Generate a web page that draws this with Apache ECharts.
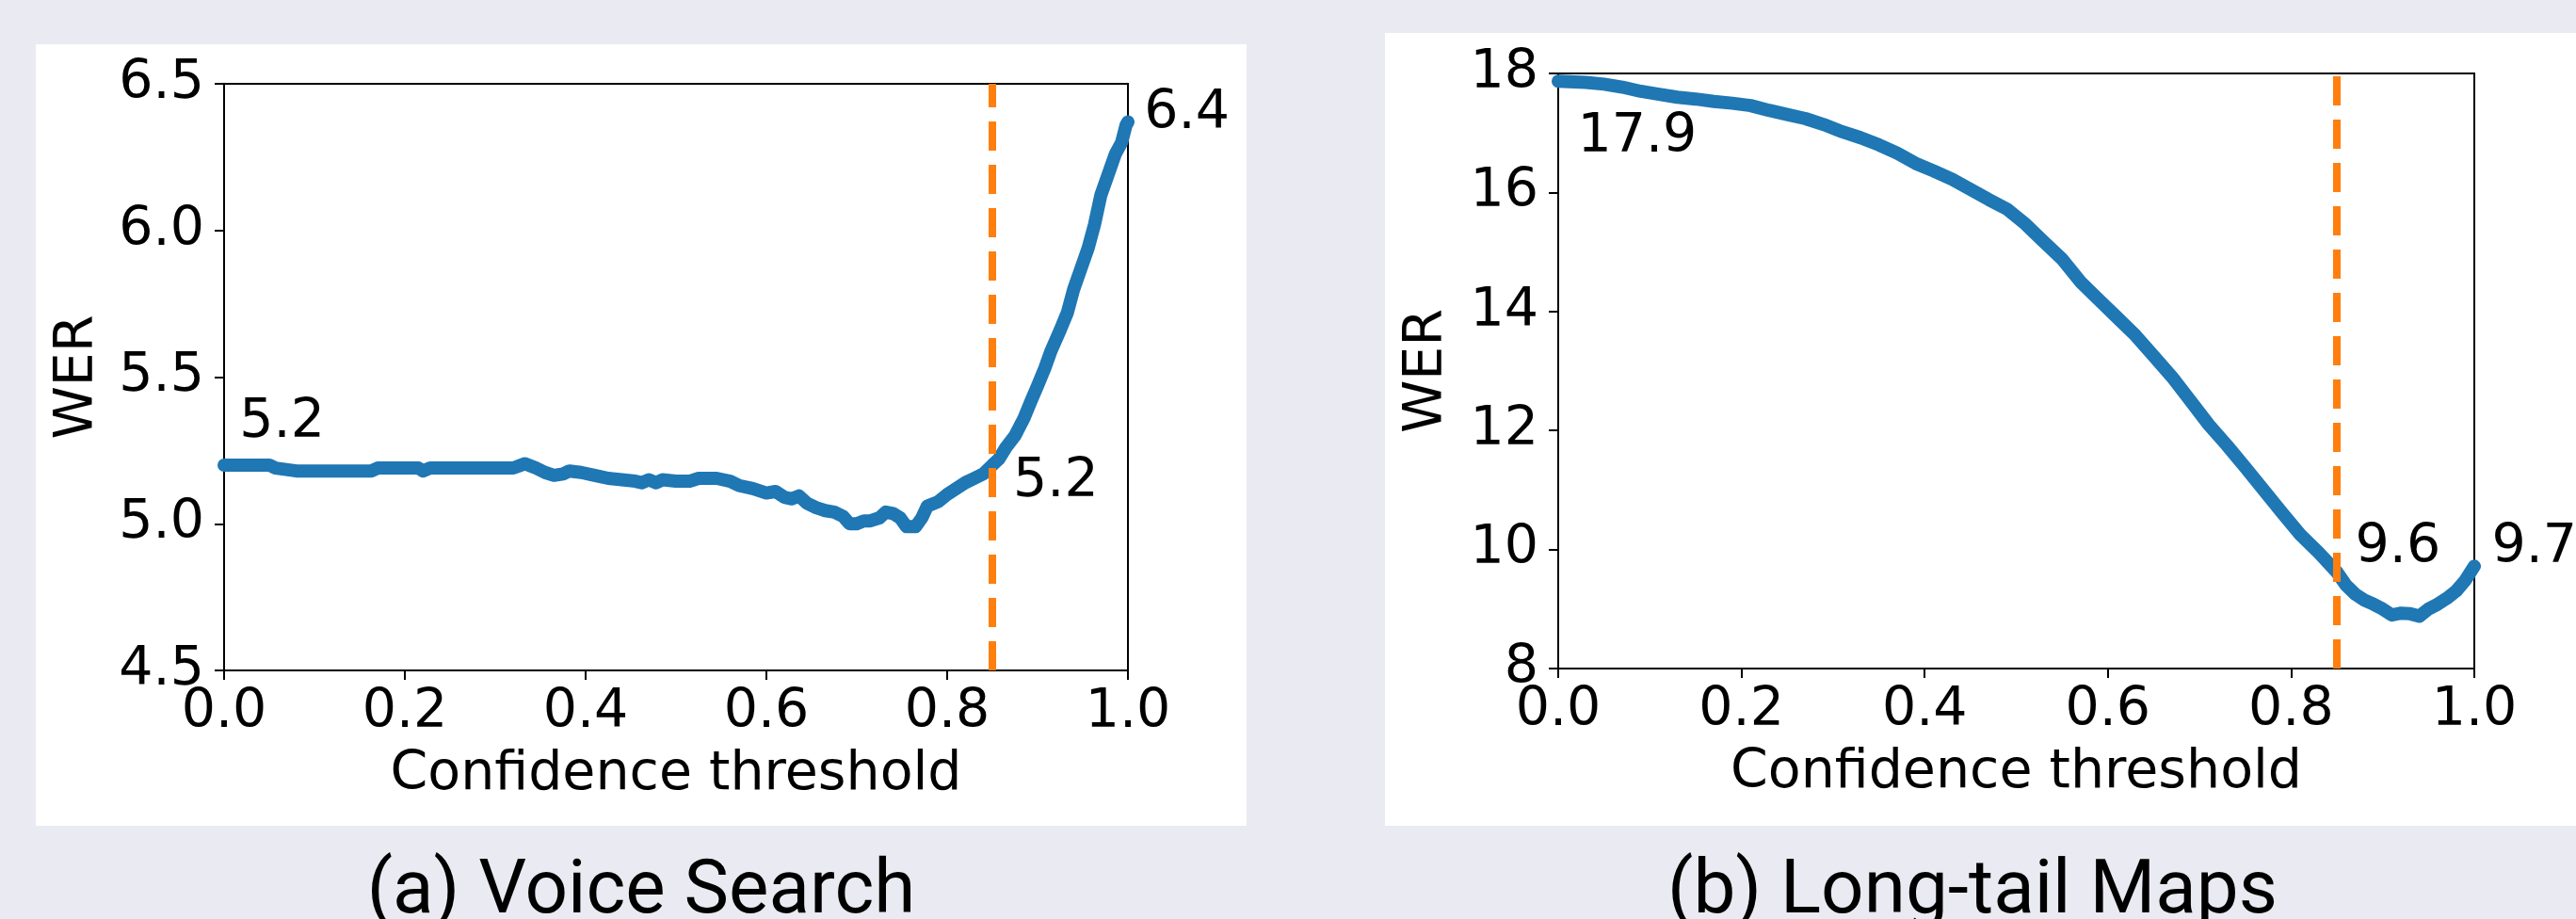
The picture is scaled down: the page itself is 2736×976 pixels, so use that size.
<!DOCTYPE html>
<html>
<head>
<meta charset="utf-8">
<script src="https://cdn.jsdelivr.net/npm/echarts@6/dist/echarts.min.js"></script>
<style>
html,body{margin:0;padding:0;background:#eaeaf2;}
#chart{width:2736px;height:976px;}
</style>
</head>
<body>
<div id="chart"></div>
<script>
// ---- data ----
const panelTitles = ['(a) Voice Search', '(b) Long-tail Maps'];
const xAxisName = 'Confidence threshold';
const yAxisName = 'WER';
const thresholdX = 0.85;

const voiceX = [0.000,0.050,0.057,0.080,0.100,0.150,0.163,0.170,0.200,0.215,0.220,0.228,0.260,0.300,0.320,0.333,0.345,0.355,0.365,0.375,0.382,0.395,0.410,0.425,0.440,0.455,0.462,0.470,0.478,0.485,0.500,0.515,0.525,0.545,0.560,0.570,0.585,0.600,0.610,0.620,0.628,0.636,0.645,0.655,0.665,0.675,0.685,0.692,0.700,0.708,0.715,0.725,0.732,0.740,0.748,0.755,0.765,0.772,0.778,0.790,0.800,0.810,0.820,0.830,0.840,0.850,0.857,0.865,0.875,0.885,0.893,0.900,0.908,0.915,0.925,0.933,0.940,0.948,0.956,0.963,0.970,0.978,0.986,0.993,0.998,1.000];
const voiceWER = [5.20,5.20,5.19,5.18,5.18,5.18,5.18,5.19,5.19,5.19,5.18,5.19,5.19,5.19,5.19,5.205,5.19,5.175,5.165,5.17,5.18,5.175,5.165,5.155,5.15,5.145,5.14,5.15,5.14,5.15,5.145,5.145,5.155,5.155,5.145,5.13,5.12,5.105,5.11,5.09,5.085,5.095,5.07,5.055,5.045,5.04,5.025,5.00,5.00,5.01,5.01,5.02,5.04,5.035,5.02,4.99,4.99,5.02,5.06,5.075,5.10,5.12,5.14,5.155,5.17,5.20,5.22,5.26,5.30,5.36,5.42,5.47,5.53,5.59,5.66,5.72,5.80,5.87,5.94,6.02,6.12,6.19,6.26,6.30,6.36,6.37];

const mapsX = [0.000,0.030,0.050,0.070,0.090,0.110,0.130,0.150,0.170,0.190,0.210,0.230,0.250,0.270,0.290,0.310,0.330,0.350,0.370,0.390,0.410,0.430,0.450,0.470,0.490,0.510,0.530,0.550,0.570,0.590,0.610,0.630,0.650,0.670,0.690,0.710,0.730,0.750,0.770,0.790,0.810,0.830,0.850,0.860,0.870,0.880,0.890,0.900,0.910,0.920,0.930,0.940,0.950,0.960,0.970,0.980,0.990,1.000];
const mapsWER = [17.87,17.85,17.82,17.77,17.70,17.65,17.60,17.57,17.53,17.50,17.46,17.38,17.31,17.24,17.14,17.02,16.92,16.80,16.66,16.49,16.36,16.22,16.05,15.88,15.72,15.47,15.17,14.88,14.50,14.20,13.90,13.60,13.25,12.90,12.50,12.10,11.75,11.38,11.00,10.62,10.25,9.95,9.62,9.40,9.25,9.15,9.08,9.00,8.90,8.93,8.92,8.88,9.00,9.08,9.18,9.30,9.48,9.72];

const xTicks = [0, 0.2, 0.4, 0.6, 0.8, 1.0];
const voiceYTicks = [4.5, 5.0, 5.5, 6.0, 6.5];
const mapsYTicks = [8, 10, 12, 14, 16, 18];

// annotation texts with their data-space anchor (left edge, vertical middle)
const voiceNoteText = ['5.2', '5.2', '6.4'];
const voiceNoteX = [0.017, 0.873, 1.018];
const voiceNoteY = [5.344, 5.142, 6.397];
const mapsNoteText = ['17.9', '9.6', '9.7'];
const mapsNoteX = [0.021, 0.870, 1.019];
const mapsNoteY = [16.924, 10.017, 10.017];

// ---- chart ----
const FONT = 'DejaVu Sans';
const FS = 57;
const grids = [
  {left: 238, top: 89, width: 960, height: 623},
  {left: 1655, top: 78, width: 973, height: 632}
];
const yTicksList = [voiceYTicks, mapsYTicks];
const xsList = [voiceX, mapsX];
const ysList = [voiceWER, mapsWER];
const notes = [[voiceNoteText, voiceNoteX, voiceNoteY],[mapsNoteText, mapsNoteX, mapsNoteY]];
const nameGaps = [126, 110];

const zip = (a,b) => a.map((v,i)=>[v,b[i]]);

const option = {
  backgroundColor: '#eaeaf2',
  animation: false,
  graphic: [
    {type:'rect', z:-10, shape:{x:38, y:47, width:1286, height:830}, style:{fill:'#ffffff'}},
    {type:'rect', z:-10, shape:{x:1471, y:35, width:1265, height:842}, style:{fill:'#ffffff'}},
    {type:'text', x:681, y:949, style:{text:panelTitles[0], font:'80px Roboto', fill:'#000', align:'center', verticalAlign:'middle'}},
    {type:'text', x:2095, y:949, style:{text:panelTitles[1], font:'80px Roboto', fill:'#000', align:'center', verticalAlign:'middle'}}
  ],
  grid: grids.map(g => Object.assign({show:true, borderColor:'#000', borderWidth:2, backgroundColor:'transparent'}, g)),
  xAxis: [0,1].map(i => ({
    type:'value', gridIndex:i, min:xTicks[0], max:xTicks[xTicks.length-1], interval:xTicks[1]-xTicks[0],
    name:xAxisName, nameLocation:'middle', nameGap:83,
    nameTextStyle:{fontFamily:FONT, fontSize:FS, color:'#000', lineHeight:FS},
    axisLine:{show:true, lineStyle:{color:'#000', width:2}},
    axisTick:{show:true, inside:false, length:10, lineStyle:{color:'#000', width:2}},
    axisLabel:{fontFamily:FONT, fontSize:FS, color:'#000', margin:17, lineHeight:FS, formatter:v=>v.toFixed(1)},
    splitLine:{show:false}
  })),
  yAxis: [0,1].map(i => {
    const t = yTicksList[i];
    return {
      type:'value', gridIndex:i, min:t[0], max:t[t.length-1], interval:t[1]-t[0],
      name:yAxisName, nameLocation:'middle', nameGap:nameGaps[i], nameRotate:90,
      nameTextStyle:{fontFamily:FONT, fontSize:FS, color:'#000', lineHeight:FS},
      axisLine:{show:true, lineStyle:{color:'#000', width:2}},
      axisTick:{show:true, inside:false, length:10, lineStyle:{color:'#000', width:2}},
      axisLabel:{fontFamily:FONT, fontSize:FS, color:'#000', margin:21, lineHeight:FS,
        formatter: i===0 ? (v=>v.toFixed(1)) : (v=>String(v))},
      splitLine:{show:false}
    };
  }),
  series: []
};

[0,1].forEach(i => {
  option.series.push({
    type:'line', xAxisIndex:i, yAxisIndex:i, data:zip(xsList[i], ysList[i]),
    showSymbol:false, symbol:'none', z:3,
    lineStyle:{color:'#1f77b4', width:14, cap:'round', join:'round'},
    markLine:{
      silent:true, symbol:['none','none'], label:{show:false},
      lineStyle:{color:'#ff7f0e', width:8, type:[31,15], dashOffset:0, opacity:1},
      data:[{xAxis:thresholdX}], z:4
    }
  });
  const [txt, nx, ny] = notes[i];
  option.series.push({
    type:'scatter', xAxisIndex:i, yAxisIndex:i, clip:false, symbolSize:0.01, z:5,
    itemStyle:{opacity:1, color:'#000'},
    data: txt.map((t,k)=>({value:[nx[k], ny[k]], name:t})),
    label:{show:true, position:[0,0], align:'left', verticalAlign:'middle', opacity:1,
      textBorderWidth:0, formatter:p=>p.name, fontFamily:FONT, fontSize:FS, color:'#000000', lineHeight:FS}
  });
});

const chart = echarts.init(document.getElementById('chart'), null, {renderer:'canvas'});
chart.setOption(option);
</script>
</body>
</html>
